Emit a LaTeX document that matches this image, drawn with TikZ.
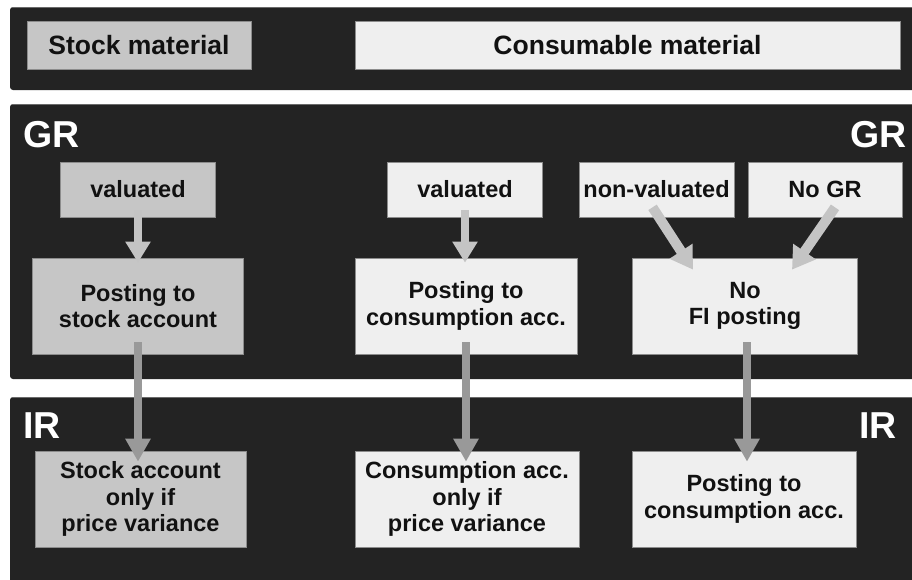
\documentclass[tikz,border=0pt]{standalone}
\usepackage{fontspec}
\setmainfont{Liberation Sans}
\usetikzlibrary{arrows.meta,calc}

\definecolor{bandbg}{HTML}{232323}
\definecolor{bandedge}{HTML}{6A6A6A}
\definecolor{stockfill}{HTML}{C6C6C6}
\definecolor{consfill}{HTML}{EFEFEF}
\definecolor{boxedge}{HTML}{8C8C8C}
\definecolor{lightarrow}{HTML}{C4C4C4}
\definecolor{darkarrow}{HTML}{999999}
\definecolor{txt}{HTML}{111111}

\tikzset{
  band/.style={fill=bandbg, rounded corners=3pt},
  matbox/.style={draw=boxedge, line width=0.7pt, inner sep=0pt, align=center,
    text=txt, font=\fontsize{26.5}{30}\selectfont\bfseries},
  flowbox/.style={draw=boxedge, line width=0.7pt, inner sep=0pt, align=center,
    text=txt, font=\fontsize{23.5}{26.5}\selectfont\bfseries},
  stockbox/.style={fill=stockfill},
  consbox/.style={fill=consfill},
  steplabel/.style={text=white, inner sep=0pt, font=\fontsize{37.5}{40}\selectfont\bfseries},
  shortarr/.style={draw=lightarrow, line width=8pt,
    -{Triangle[width=24pt,length=21pt]}},
  diagarr/.style={draw=lightarrow, line width=10pt,
    -{Triangle[width=26pt,length=22pt]}},
  longarr/.style={draw=darkarrow, line width=8pt,
    -{Triangle[width=24pt,length=23pt]}},
}

\begin{document}
\begin{tikzpicture}[x=1pt, y=-1pt]
  \useasboundingbox (0,0) rectangle (912,579);
  \fill[white] (0,0) rectangle (912,579);

  % three horizontal bands
  \fill[band] (10,7) rectangle (920,90);
  \fill[band] (10,104) rectangle (920,379);
  \fill[band] (10,397) rectangle (920,590);
  \draw[bandedge, line width=0.8pt] (12,7.4) -- (912,7.4);
  \draw[bandedge, line width=0.8pt] (12,104.4) -- (912,104.4);
  \draw[bandedge, line width=0.8pt] (12,397.4) -- (912,397.4);

  % material type headers
  \node[matbox, stockbox, minimum width=224pt, minimum height=48pt] (stockmat) at (139,45) {Stock material};
  \node[matbox, consbox, minimum width=545pt, minimum height=48pt] (consmat) at (627.5,45) {Consumable material};

  % goods receipt
  \node[steplabel, anchor=base west] (grl) at (23,147) {GR};
  \node[steplabel, anchor=base east] (grr) at (907,147) {GR};

  \node[flowbox, stockbox, minimum width=155pt, minimum height=55pt] (val1) at (138,189.5) {valuated};
  \node[flowbox, consbox, minimum width=155pt, minimum height=55pt] (val2) at (465,189.5) {valuated};
  \node[flowbox, consbox, minimum width=155pt, minimum height=55pt] (nonval) at (656.5,189.5) {non-valuated};
  \node[flowbox, consbox, minimum width=154pt, minimum height=55pt] (nogr) at (825,189.5) {No GR};

  \node[flowbox, stockbox, minimum width=211pt, minimum height=96pt] (post1) at (138,306) {Posting to\\stock account};
  \node[flowbox, consbox, minimum width=222pt, minimum height=96pt] (post2) at (466,306) {Posting to\\consumption acc.};
  \node[flowbox, consbox, minimum width=225pt, minimum height=96pt] (nofi) at (745,306) {No\\FI posting};

  % invoice receipt
  \node[steplabel, anchor=base west] (irl) at (23,438) {IR};
  \node[steplabel, anchor=base east] (irr) at (897,438) {IR};

  \node[flowbox, stockbox, minimum width=211pt, minimum height=96pt] (ir1) at (140.5,499) {Stock account\\only if\\price variance};
  \node[flowbox, consbox, minimum width=224pt, minimum height=96pt] (ir2) at (467,499) {Consumption acc.\\only if\\price variance};
  \node[flowbox, consbox, minimum width=224pt, minimum height=96pt] (ir3) at (744,499) {Posting to\\consumption acc.};

  % GR flow
  \draw[shortarr, shorten >=-5pt] ([yshift=7pt]val1.south) -- (val1.south |- post1.north);
  \draw[shortarr, shorten >=-5pt] ([yshift=7pt]val2.south) -- (val2.south |- post2.north);
  \draw[diagarr] ([xshift=-4pt,yshift=10pt]nonval.south) -- ([xshift=-52pt,yshift=-12pt]nofi.north);
  \draw[diagarr] ([xshift=10pt,yshift=10pt]nogr.south) -- ([xshift=47pt,yshift=-12pt]nofi.north);

  % GR to IR
  \draw[longarr, shorten >=-11pt] ([yshift=12pt]post1.south) -- (post1.south |- ir1.north);
  \draw[longarr, shorten >=-11pt] ([yshift=12pt]post2.south) -- (post2.south |- ir2.north);
  \draw[longarr, shorten >=-11pt] ([xshift=2pt,yshift=12pt]nofi.south) -- ([xshift=2pt]nofi.south |- ir3.north);
\end{tikzpicture}
\end{document}
